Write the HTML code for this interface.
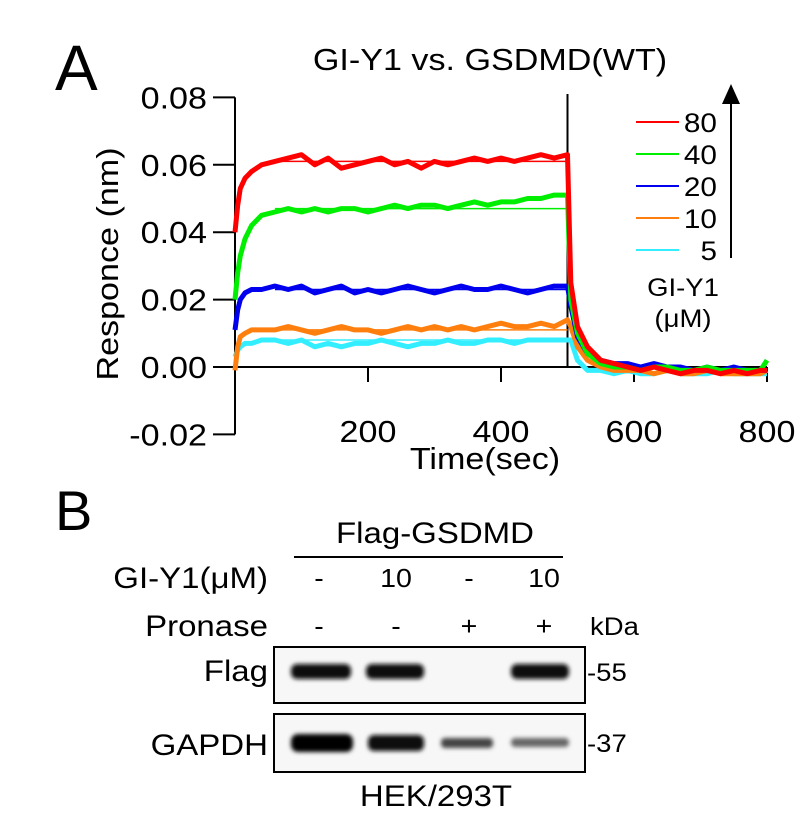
<!DOCTYPE html>
<html><head><meta charset="utf-8"><style>
body{margin:0;background:#fff;}
svg text{font-family:"Liberation Sans",Arial,sans-serif;fill:#000;}
</style></head><body>
<svg id="fig" width="803" height="825" viewBox="0 0 803 825">
<defs><filter id="blur" x="-20%" y="-50%" width="140%" height="200%"><feGaussianBlur stdDeviation="2.2"/></filter></defs>
<text class="ns" x="55" y="90" font-size="64">A</text>
<text x="490" y="70" font-size="31" text-anchor="middle">GI-Y1 vs. GSDMD(WT)</text>
<text transform="translate(118,264) rotate(-90)" font-size="31" text-anchor="middle">Responce (nm)</text>
<text x="485" y="469" font-size="31" text-anchor="middle">Time(sec)</text>
<g id="axes"></g>
<g id="series"></g>
<g id="legend"></g>
<text x="683" y="296" font-size="25" text-anchor="middle">GI-Y1</text>
<text x="683" y="327" font-size="25" text-anchor="middle">(μM)</text>
<line x1="731" y1="258" x2="731" y2="100" stroke="#000" stroke-width="2"/>
<polygon points="731,84 722,104 740,104" fill="#000"/>

<text class="ns" x="55" y="530" font-size="56">B</text>
<text x="435" y="543" font-size="30" text-anchor="middle">Flag-GSDMD</text>
<line x1="294" y1="557" x2="563" y2="557" stroke="#000" stroke-width="2"/>
<text x="268" y="588" font-size="30" text-anchor="end">GI-Y1(μM)</text>
<text x="268" y="636" font-size="30" text-anchor="end">Pronase</text>
<g font-size="26" text-anchor="middle">
<text x="319" y="587">-</text><text x="396" y="587">10</text><text x="469" y="587">-</text><text x="544" y="587">10</text>
<text x="319" y="635">-</text><text x="396" y="635">-</text><text x="469" y="635">+</text><text x="544" y="635">+</text>
</g>
<text x="590" y="635" font-size="25">kDa</text>
<rect x="274" y="647" width="311" height="56" fill="#f7f7f7" stroke="#000" stroke-width="2"/>
<g filter="url(#blur)" fill="#111">
<rect x="291" y="664" width="60" height="15" rx="6"/><rect x="366" y="664" width="58" height="15" rx="6"/><rect x="511" y="664" width="58" height="15" rx="6"/>
</g>
<rect x="274" y="714" width="311" height="58" fill="#f7f7f7" stroke="#000" stroke-width="2"/>
<g filter="url(#blur)">
<rect x="291" y="734" width="62" height="18" rx="7" fill="#050505"/><rect x="368" y="735" width="56" height="16" rx="6" fill="#0c0c0c"/>
<rect x="441" y="738" width="52" height="10" rx="4" fill="#444"/><rect x="511" y="738" width="58" height="9" rx="4" fill="#666"/>
</g>
<text x="268" y="681" font-size="30" text-anchor="end">Flag</text>
<text x="268" y="755" font-size="30" text-anchor="end">GAPDH</text>
<text x="587" y="681" font-size="25">-55</text>
<text x="587" y="752" font-size="25">-37</text>
<text x="436" y="806" font-size="30" text-anchor="middle">HEK/293T</text>
</svg>
<script>
const times=[0,4,8,15,25,40,60,80,100,120,140,160,180,200,220,240,260,280,300,320,340,360,380,400,420,440,460,480,500,505,515,530,550,570,590,610,630,650,670,690,710,730,750,770,790,800];
const red=[0.040,0.048,0.053,0.056,0.058,0.060,0.061,0.062,0.063,0.060,0.062,0.059,0.060,0.061,0.062,0.060,0.061,0.059,0.061,0.060,0.061,0.062,0.061,0.062,0.061,0.062,0.063,0.062,0.063,0.025,0.012,0.006,0.002,0.001,0.000,-0.001,0.000,-0.001,-0.002,-0.001,-0.001,-0.002,-0.001,-0.002,-0.001,-0.001];
const green=[0.020,0.028,0.033,0.038,0.042,0.045,0.046,0.047,0.046,0.047,0.046,0.047,0.047,0.046,0.047,0.048,0.047,0.048,0.048,0.047,0.048,0.049,0.048,0.049,0.049,0.050,0.050,0.051,0.051,0.020,0.010,0.004,0.001,0.000,0.000,-0.001,0.000,0.000,-0.001,-0.001,0.000,-0.001,-0.001,-0.001,-0.001,0.002];
const blue=[0.011,0.017,0.020,0.022,0.023,0.023,0.024,0.023,0.024,0.022,0.023,0.024,0.022,0.023,0.022,0.023,0.024,0.023,0.022,0.023,0.024,0.023,0.023,0.024,0.023,0.022,0.023,0.024,0.024,0.018,0.009,0.004,0.002,0.001,0.001,0.000,0.001,0.000,0.000,-0.001,0.000,-0.001,0.000,-0.001,-0.001,-0.001];
const orange=[-0.001,0.006,0.009,0.010,0.011,0.011,0.011,0.012,0.011,0.010,0.011,0.012,0.011,0.011,0.010,0.011,0.012,0.011,0.012,0.011,0.012,0.011,0.012,0.013,0.012,0.012,0.013,0.012,0.014,0.012,0.006,0.002,0.000,-0.001,-0.001,-0.001,-0.002,-0.001,-0.002,-0.002,-0.001,-0.002,-0.002,-0.002,-0.002,-0.001];
const cyan=[0.003,0.005,0.006,0.007,0.007,0.008,0.008,0.007,0.008,0.006,0.007,0.006,0.007,0.007,0.008,0.007,0.006,0.007,0.007,0.008,0.007,0.007,0.008,0.008,0.007,0.008,0.008,0.008,0.008,0.008,0.002,-0.001,-0.001,-0.002,-0.001,-0.002,-0.002,-0.001,-0.002,-0.002,-0.002,-0.001,-0.002,-0.002,-0.002,-0.002];
const seriesLabels=["80","40","20","10","5"];
const plateaus=[0.061,0.047,0.023,0.011,0.008];
const yTicks=[0.08,0.06,0.04,0.02,0.00,-0.02];
const yTickLabels=["0.08","0.06","0.04","0.02","0.00","-0.02"];
const xTicks=[200,400,600,800];
const xTickLabels=["200","400","600","800"];
const NS="http://www.w3.org/2000/svg";
const x=t=>235+t*0.665;
const y=v=>367-v*(67.4/0.02);
function mk(tag,attrs,parent){const e=document.createElementNS(NS,tag);for(const k in attrs)e.setAttribute(k,attrs[k]);parent.appendChild(e);return e;}
const axes=document.getElementById('axes');
let l=mk('line',{x1:235,y1:y(0.08),x2:235,y2:y(-0.02),stroke:'#000','stroke-width':2},axes);


l=mk('line',{x1:235,y1:y(0),x2:x(800),y2:y(0),stroke:'#000','stroke-width':2},axes);


l=mk('line',{x1:x(500),y1:y(0.081),x2:x(500),y2:y(0),stroke:'#000','stroke-width':2},axes);


yTicks.forEach((v,i)=>{
 const t=mk('line',{x1:213,y1:y(v),x2:235,y2:y(v),stroke:'#000','stroke-width':2},axes);
 
 
 const tx=mk('text',{x:207,y:y(v)+11,'font-size':31,'text-anchor':'end'},axes);
 tx.textContent=yTickLabels[i];
 
 
});
xTicks.forEach((v,i)=>{
 const t=mk('line',{x1:x(v),y1:y(0),x2:x(v),y2:y(0)+15,stroke:'#000','stroke-width':2},axes);
 
 
 const tx=mk('text',{x:x(v),y:442,'font-size':31,'text-anchor':'middle'},axes);
 tx.textContent=xTickLabels[i];
 
 
});
const data=[cyan,orange,blue,green,red];
const colors=['#33eeff','#ff7f0e','#0000ee','#00ee00','#ff0000'];
const names=['5','10','20','40','80'];
const sg=document.getElementById('series');
data.forEach((arr,si)=>{
 const pts=arr.map((v,i)=>x(times[i]).toFixed(1)+','+y(v).toFixed(1)).join(' ');
 const p=mk('polyline',{points:pts,fill:'none',stroke:colors[si],'stroke-width':5,'stroke-linejoin':'round'},sg);
 
 
 const pv=plateaus[4-si];
 const f=mk('line',{x1:x(60),y1:y(pv),x2:x(500),y2:y(pv),stroke:colors[si],'stroke-width':1.5},sg);
 
 
});
const lg=document.getElementById('legend');
const lc=['#ff0000','#00ee00','#0000ee','#ff7f0e','#33eeff'];
seriesLabels.forEach((s,i)=>{
 const yy=122+i*32;
 const ln=mk('line',{x1:636,y1:yy,x2:679,y2:yy,stroke:lc[i],'stroke-width':2},lg);
 
 
 const tx=mk('text',{x:717,y:yy+10,'font-size':27,'text-anchor':'end'},lg);
 tx.textContent=s;
 
 
});
document.querySelectorAll('#fig text').forEach(t=>{
 if(t.classList.contains('ns'))return;
 const w=t.getComputedTextLength();
 if(w>0){t.setAttribute('textLength',(w*1.1).toFixed(1));t.setAttribute('lengthAdjust','spacingAndGlyphs');}
});
</script>
</body></html>
